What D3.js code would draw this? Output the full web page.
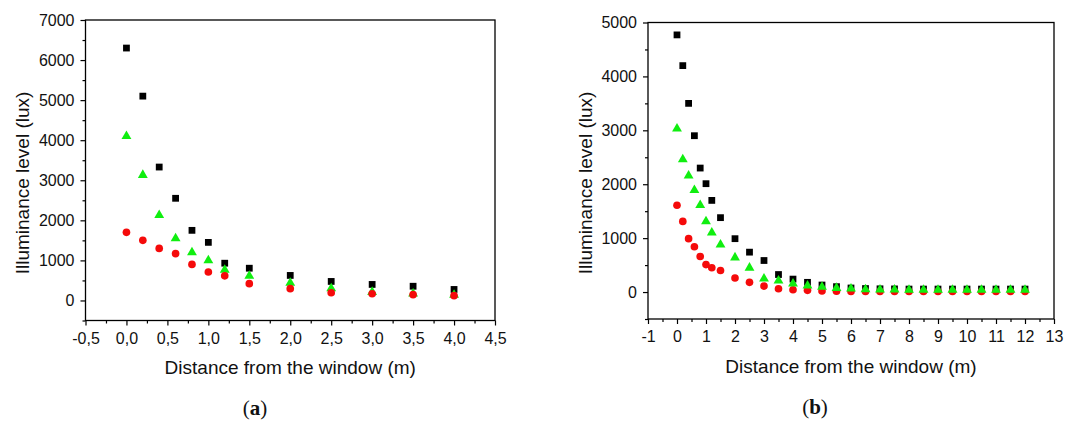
<!DOCTYPE html>
<html>
<head>
<meta charset="utf-8">
<script src="https://cdn.jsdelivr.net/npm/d3@7"></script>
<style>
  html, body { margin: 0; padding: 0; background: #fff; }
  svg { display: block; }
  text { font-family: "Liberation Sans", Arial, sans-serif; fill: #111; }
</style>
</head>
<body>
<svg id="chart" width="1065" height="421"></svg>
<script>
// ---------- Panel (a) data ----------
const distA = [0, 0.2, 0.4, 0.6, 0.8, 1.0, 1.2, 1.5, 2.0, 2.5, 3.0, 3.5, 4.0];
const blackA = [6300, 5100, 3330, 2550, 1750, 1450, 930, 805, 625, 475, 400, 355, 275];
const greenA = [4100, 3130, 2130, 1550, 1200, 1000, 765, 615, 440, 300, 210, 170, 140];
const redA   = [1700, 1500, 1300, 1170, 900, 710, 615, 420, 295, 192, 167, 145, 120];
const xTicksA = [-0.5, 0, 0.5, 1, 1.5, 2, 2.5, 3, 3.5, 4, 4.5];
const yTicksA = [0, 1000, 2000, 3000, 4000, 5000, 6000, 7000];

// ---------- Panel (b) data ----------
const distB = [0, 0.2, 0.4, 0.6, 0.8, 1.0, 1.2, 1.5, 2, 2.5, 3, 3.5, 4, 4.5, 5, 5.5, 6, 6.5, 7, 7.5, 8, 8.5, 9, 9.5, 10, 10.5, 11, 11.5, 12];
const blackB = [4770, 4200, 3500, 2900, 2300, 2010, 1700, 1380, 990, 740, 585, 325, 240, 180, 130, 100, 75, 65, 60, 58, 55, 55, 55, 55, 55, 55, 55, 55, 55];
const greenB = [3030, 2460, 2160, 1890, 1610, 1310, 1100, 880, 640, 450, 250, 210, 155, 117, 93, 74, 62, 50, 45, 42, 40, 40, 40, 40, 40, 40, 40, 40, 40];
const redB   = [1610, 1310, 990, 840, 660, 510, 450, 400, 260, 180, 110, 62, 43, 31, 20, 14, 12, 10, 10, 10, 10, 10, 10, 10, 10, 10, 10, 10, 10];
const xTicksB = d3.range(-1, 14, 1);
const yTicksB = [0, 1000, 2000, 3000, 4000, 5000];

const xLabel = "Distance from the window (m)";
const yLabel = "Illuminance level (lux)";

const COLORS = { black: "#000000", green: "#10ee10", red: "#f50a0a" };

const svg = d3.select("#chart");

function panel(cfg) {
  const g = svg.append("g");
  const x = d3.scaleLinear().domain(cfg.xDomain).range([cfg.left, cfg.right]);
  const y = d3.scaleLinear().domain(cfg.yDomain).range([cfg.bottom, cfg.top]);

  // minor ticks
  g.append("g").attr("transform", `translate(0,${cfg.bottom})`)
    .call(d3.axisBottom(x).tickValues(cfg.xMinor).tickSize(3).tickSizeOuter(0).tickFormat(""))
    .call(s => s.select(".domain").remove());
  g.append("g").attr("transform", `translate(${cfg.left},0)`)
    .call(d3.axisLeft(y).tickValues(cfg.yMinor).tickSize(3).tickSizeOuter(0).tickFormat(""))
    .call(s => s.select(".domain").remove());

  // major ticks
  const xa = g.append("g").attr("transform", `translate(0,${cfg.bottom})`)
    .call(d3.axisBottom(x).tickValues(cfg.xTicks).tickSize(5).tickPadding(7).tickSizeOuter(0).tickFormat(cfg.xFmt));
  xa.select(".domain").remove();
  const ya = g.append("g").attr("transform", `translate(${cfg.left},0)`)
    .call(d3.axisLeft(y).tickValues(cfg.yTicks).tickSize(5).tickPadding(6).tickSizeOuter(0).tickFormat(d => String(d)));
  ya.select(".domain").remove();
  g.selectAll(".tick line").attr("stroke", "#000").attr("stroke-width", 1.2);
  g.selectAll(".tick text").attr("font-size", 16).attr("font-family", "'Liberation Sans', Arial, sans-serif").attr("fill", "#111");

  // frame
  g.append("rect")
    .attr("x", cfg.left).attr("y", cfg.top)
    .attr("width", cfg.right - cfg.left).attr("height", cfg.bottom - cfg.top)
    .attr("fill", "none").attr("stroke", "#000").attr("stroke-width", 1.3);

  // marks
  const sq = d3.symbol().type(d3.symbolSquare).size(46);
  const tri = d3.symbol().type(d3.symbolTriangle).size(42);
  const circ = d3.symbol().type(d3.symbolCircle).size(46);
  const series = {
    black: { vals: cfg.black, sym: sq, color: COLORS.black },
    green: { vals: cfg.green, sym: tri, color: COLORS.green },
    red:   { vals: cfg.red,   sym: circ, color: COLORS.red }
  };
  cfg.order.forEach(k => {
    const s = series[k];
    g.append("g").selectAll("path")
      .data(cfg.dist.map((d, i) => [d, s.vals[i]]))
      .join("path")
      .attr("d", s.sym)
      .attr("transform", d => `translate(${x(d[0])},${y(d[1])})`)
      .attr("fill", s.color);
  });

  // axis titles
  g.append("text")
    .attr("x", (cfg.left + cfg.right) / 2).attr("y", cfg.xTitleY)
    .attr("dy", "0.35em").attr("text-anchor", "middle")
    .attr("font-size", 19).text(xLabel);
  g.append("text")
    .attr("transform", `translate(${cfg.yTitleX},${cfg.yTitleY}) rotate(-90)`)
    .attr("dy", "0.35em").attr("text-anchor", "middle")
    .attr("font-size", 19).text(yLabel);

  // caption
  const cap = g.append("text")
    .attr("x", cfg.capX).attr("y", cfg.capY)
    .attr("dy", "0.35em").attr("text-anchor", "middle")
    .attr("font-size", 21)
    .style("font-family", "'Liberation Serif', 'DejaVu Serif', serif");
  cap.append("tspan").text("(");
  cap.append("tspan").attr("font-weight", "bold").text(cfg.cap);
  cap.append("tspan").text(")");
}

panel({
  left: 85.5, right: 495, top: 20, bottom: 320.5,
  xDomain: [-0.5, 4.5], yDomain: [-500, 7000],
  xTicks: xTicksA, yTicks: yTicksA,
  xMinor: d3.range(-0.25, 4.5, 0.5), yMinor: d3.range(-500, 7000, 1000),
  xFmt: d => d.toFixed(1).replace(".", ","),
  dist: distA, black: blackA, green: greenA, red: redA,
  order: ["black", "green", "red"],
  xTitleY: 367, yTitleX: 22, yTitleY: 183,
  capX: 255, capY: 408, cap: "a"
});

panel({
  left: 648, right: 1054, top: 22.5, bottom: 319,
  xDomain: [-1, 13], yDomain: [-500, 5000],
  xTicks: xTicksB, yTicks: yTicksB,
  xMinor: d3.range(-0.5, 13, 1), yMinor: d3.range(-500, 5000, 1000),
  xFmt: d => String(d),
  dist: distB, black: blackB, green: greenB, red: redB,
  order: ["black", "red", "green"],
  xTitleY: 366, yTitleX: 585, yTitleY: 183,
  capX: 815, capY: 407, cap: "b"
});
</script>
</body>
</html>
